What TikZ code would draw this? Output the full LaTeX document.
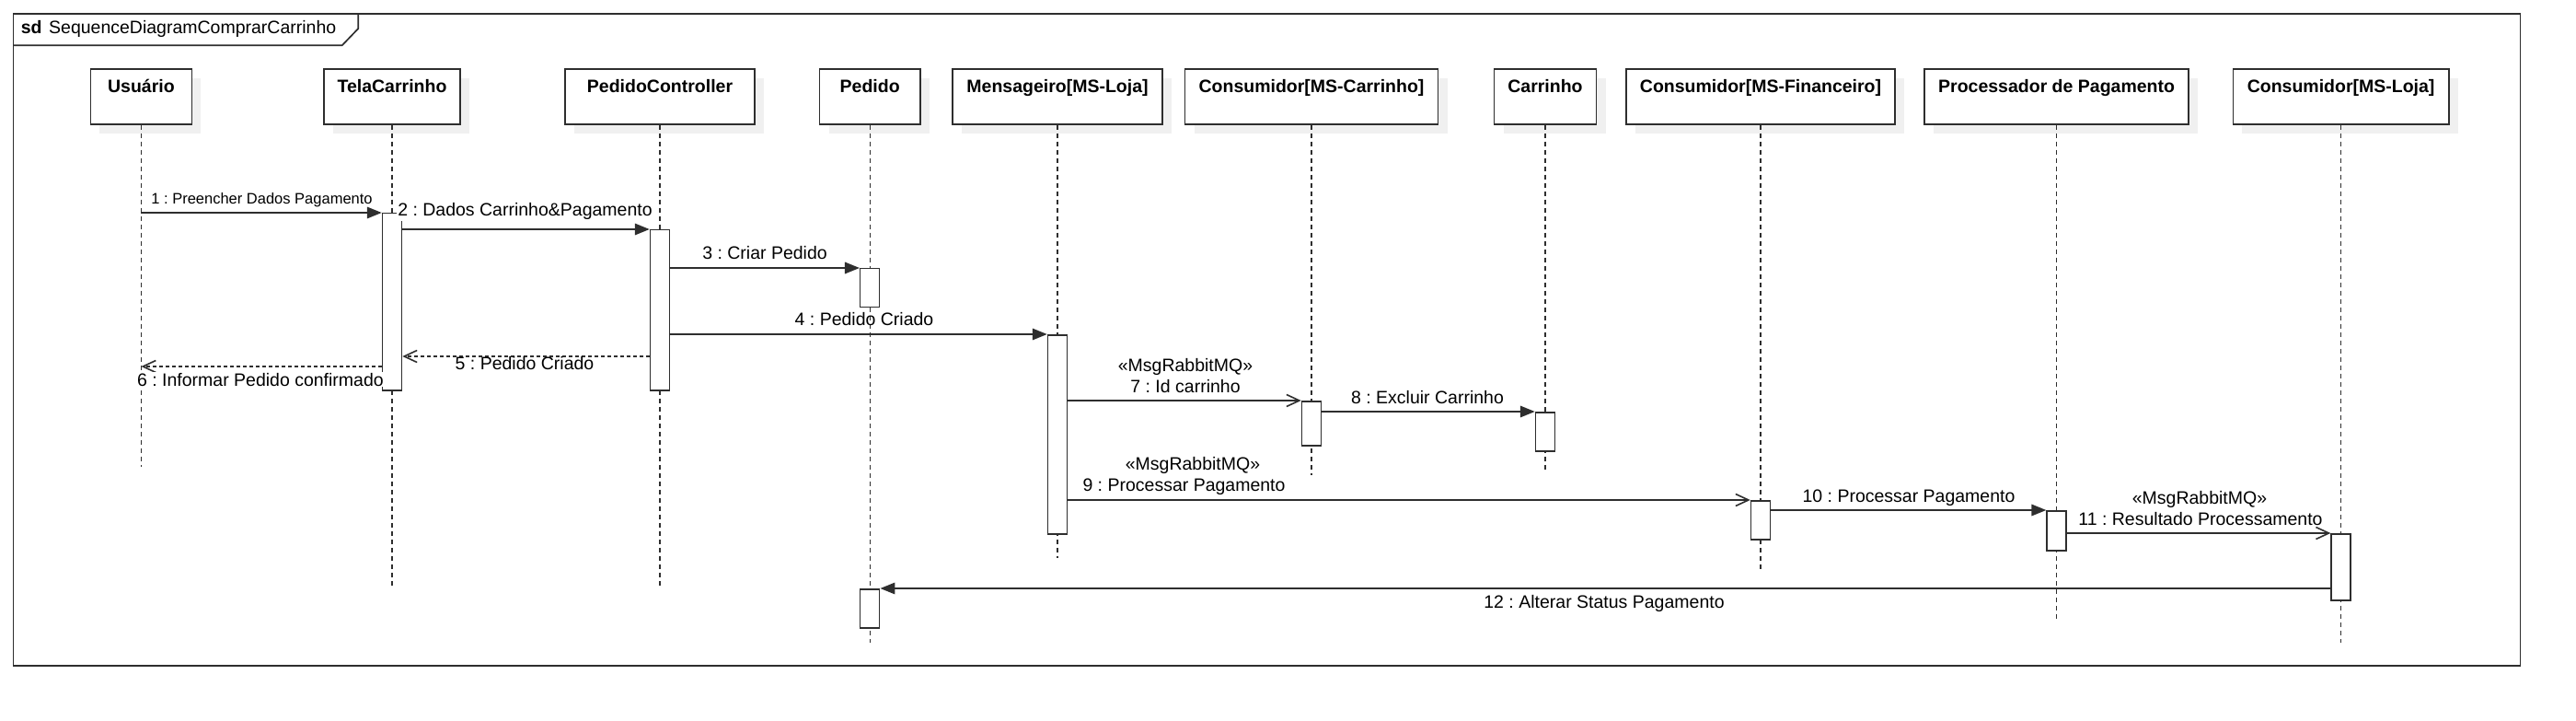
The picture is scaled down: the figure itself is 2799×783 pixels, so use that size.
\documentclass[tikz,border=0pt]{standalone}
\usepackage{fontspec}
\setmainfont{Liberation Sans}
\usetikzlibrary{arrows.meta,shadows}
\definecolor{lc}{HTML}{2E2E2E}
\definecolor{shc}{HTML}{F0F0F0}
\frenchspacing
\begin{document}
\frenchspacing
\begin{tikzpicture}[x=1pt,y=-1pt,
  every node/.style={font=\fontsize{19.5pt}{23pt}\selectfont\frenchspacing, text=black},
  lbox/.style={draw=lc, fill=white, line width=1.5pt, inner sep=0pt, text height=26pt, text depth=34pt, anchor=base,
    font=\fontsize{19.5pt}{23pt}\selectfont\bfseries,
    general shadow={fill=shc, shadow xshift=10pt, shadow yshift=-10pt}},
  act/.style={draw=lc, fill=white, line width=1.5pt, minimum width=21pt, inner sep=0pt, anchor=north},
  lifeline/.style={draw=lc, line width=1.1pt, dash pattern=on 5pt off 4pt},
  sync/.style={draw=lc, line width=1.7pt, -{Triangle[length=16pt,width=12.5pt]}},
  async/.style={draw=lc, line width=1.6pt, -{Straight Barb[length=14pt,width=13pt]}},
  reply/.style={async, dash pattern=on 4pt off 3pt},
  lbl/.style={anchor=base, inner sep=0pt},
  lblw/.style={anchor=base, inner sep=1pt, fill=white},
  small/.style={font=\fontsize{16.5pt}{20pt}\selectfont\frenchspacing},
  framestyle/.style={draw=lc, line width=1.7pt}
]
\useasboundingbox (0,0) rectangle (2799,783);

% frame
\draw[framestyle] (14.5,15) rectangle (2738.6,722.7);
\draw[framestyle] (14.5,49.3) -- (371.7,49.3) -- (389.3,31) -- (389.3,15);
\node[anchor=base west, inner sep=0pt] (title) at (22.7,36.7) {\textbf{sd}\hspace{7.5pt}SequenceDiagramComprarCarrinho};

% lifeline heads
\node[lbox, minimum width=110pt]   (bU)  at (153.4,101)  {Usuário};
\node[lbox, minimum width=148pt]   (bTC) at (426,101)    {TelaCarrinho};
\node[lbox, minimum width=206pt]   (bPC) at (717,101)    {PedidoController};
\node[lbox, minimum width=109.4pt] (bP)  at (945.2,101)  {Pedido};
\node[lbox, minimum width=228pt]   (bM)  at (1149,101)   {Mensageiro[MS-Loja]};
\node[lbox, minimum width=275pt]   (bMC) at (1425,101)   {Consumidor[MS-Carrinho]};
\node[lbox, minimum width=111pt]   (bC)  at (1679,101)   {Carrinho};
\node[lbox, minimum width=292pt]   (bMF) at (1913,101)   {Consumidor[MS-Financeiro]};
\node[lbox, minimum width=287pt]   (bPP) at (2234.6,101) {Processador de Pagamento};
\node[lbox, minimum width=234.5pt] (bML) at (2543.6,101) {Consumidor[MS-Loja]};

% lifeline ends
\coordinate (eU)  at (bU.south  |- 0,506.7);
\coordinate (eTC) at (bTC.south |- 0,636.7);
\coordinate (ePC) at (bPC.south |- 0,636.7);
\coordinate (eP)  at (bP.south  |- 0,698);
\coordinate (eM)  at (bM.south  |- 0,606);
\coordinate (eMC) at (bMC.south |- 0,515.7);
\coordinate (eC)  at (bC.south  |- 0,510);
\coordinate (eMF) at (bMF.south |- 0,618);
\coordinate (ePP) at (bPP.south |- 0,671.7);
\coordinate (eML) at (bML.south |- 0,698);

\draw[lifeline] (bU.south)  -- (eU);
\draw[lifeline] (bTC.south) -- (eTC);
\draw[lifeline] (bPC.south) -- (ePC);
\draw[lifeline] (bP.south)  -- (eP);
\draw[lifeline] (bM.south)  -- (eM);
\draw[lifeline] (bMC.south) -- (eMC);
\draw[lifeline] (bC.south)  -- (eC);
\draw[lifeline] (bMF.south) -- (eMF);
\draw[lifeline] (bPP.south) -- (ePP);
\draw[lifeline] (bML.south) -- (eML);

% activations
\node[act, minimum height=192pt] (aTC) at (bTC.south |- 0,231) {};
\node[act, minimum height=174pt] (aPC) at (bPC.south |- 0,249) {};
\node[act, minimum height=42pt]  (aP1) at (bP.south  |- 0,291) {};
\node[act, minimum height=42pt]  (aP2) at (bP.south  |- 0,639) {};
\node[act, minimum height=216pt] (aM)  at (bM.south  |- 0,363) {};
\node[act, minimum height=48pt]  (aMC) at (bMC.south |- 0,435) {};
\node[act, minimum height=42pt]  (aC)  at (bC.south  |- 0,447) {};
\node[act, minimum height=42pt]  (aMF) at (bMF.south |- 0,543) {};
\node[act, minimum height=43pt]  (aPP) at (bPP.south |- 0,554) {};
\node[act, minimum height=72pt]  (aML) at (bML.south |- 0,579) {};

% messages
\draw[sync]  (bU.south |- aTC.north) -- (aTC.north west);
\draw[sync]  (aTC.east |- aPC.north) -- (aPC.north west);
\draw[sync]  (aPC.east |- aP1.north) -- (aP1.north west);
\draw[sync]  (aPC.east |- aM.north)  -- (aM.north west);
\draw[reply] (aPC.west |- 0,387) -- (aTC.east |- 0,387);
\draw[reply] (aTC.west |- 0,398) -- (bU.south |- 0,398);
\draw[async] (aM.east |- aMC.north)  -- (aMC.north west);
\draw[sync]  (aMC.east |- aC.north)  -- (aC.north west);
\draw[async] (aM.east |- aMF.north)  -- (aMF.north west);
\draw[sync]  (aMF.east |- aPP.north) -- (aPP.north west);
\draw[async] (aPP.east |- aML.north) -- (aML.north west);
\draw[sync]  (aML.west |- aP2.north) -- (aP2.north east);

% labels
\node[lbl, small] (l1) at (284.5,222) {1 : Preencher Dados Pagamento};
\node[lblw] (l2) at (570.5,235) {2 : Dados Carrinho\&Pagamento};
\node[lbl] (l3) at (831,281.7) {3 : Criar Pedido};
\node[lbl] (l4) at (939,354) {4 : Pedido Criado};
\node[lbl] (l5) at (570,401.7) {5 : Pedido Criado};
\node[lblw, anchor=base east] (l6) at (418,419) {6 : Informar Pedido confirmado};
\node[lbl] (s7) at (1288,403) {«MsgRabbitMQ»};
\node[lbl] (l7) at (1288,426.7) {7 : Id carrinho};
\node[lbl] (l8) at (1551,438.3) {8 : Excluir Carrinho};
\node[lbl] (s9) at (1296,510) {«MsgRabbitMQ»};
\node[lbl] (l9) at (1286.5,533.3) {9 : Processar Pagamento};
\node[lbl] (l10) at (2074,545.7) {10 : Processar Pagamento};
\node[lbl] (s11) at (2390,547.3) {«MsgRabbitMQ»};
\node[lbl] (l11) at (2391,570) {11 : Resultado Processamento};
\node[lbl] (l12) at (1743,660) {12 : Alterar Status Pagamento};
\end{tikzpicture}
\end{document}
